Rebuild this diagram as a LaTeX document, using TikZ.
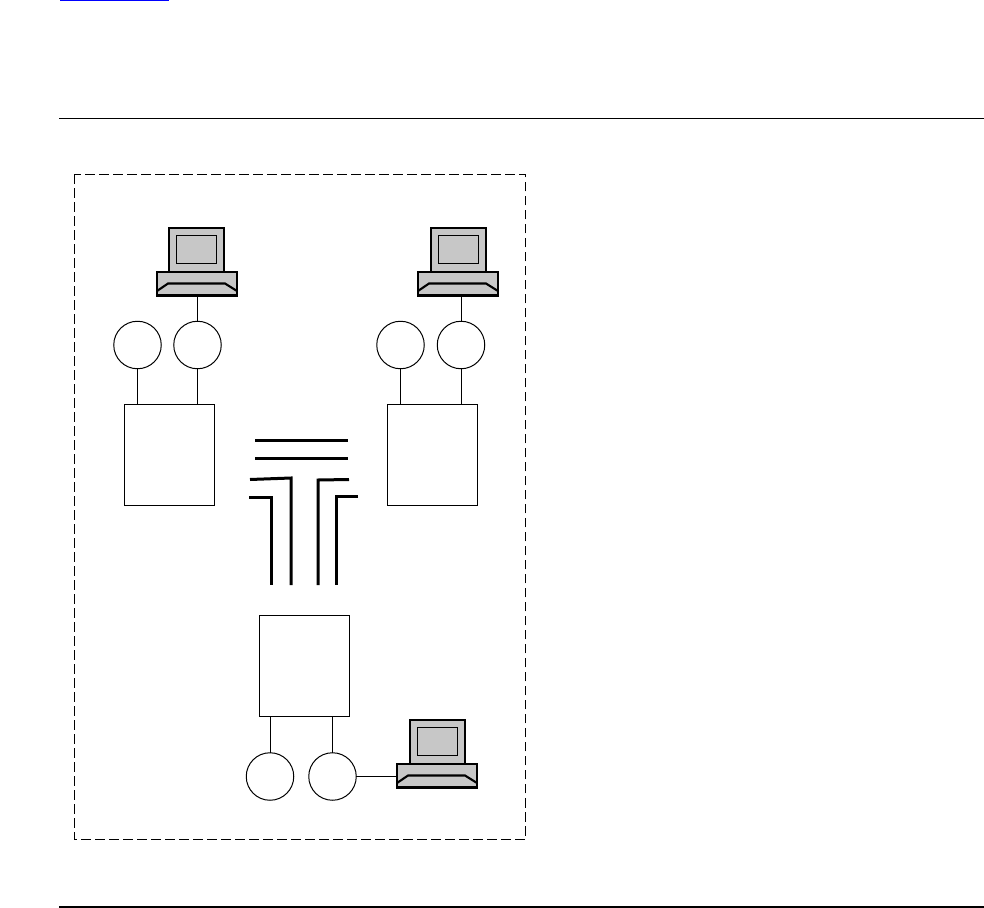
\documentclass[tikz,border=0pt]{standalone}
\tikzset{
  x=1bp,y=-1bp,
  thin line/.style={line width=0.9bp,black},
  disc/.style={circle,draw=black,line width=1bp,minimum size=47.5bp,inner sep=0pt,outer sep=0pt},
  cabinet/.style={rectangle,draw=black,line width=0.9bp,minimum width=90.5bp,minimum height=100.5bp,inner sep=0pt,outer sep=0pt},
  thick line/.style={line width=3bp,black},
  cgray/.style={fill=black!22,draw=black,line width=2.1bp},
  rule/.style={line width=1bp,black},
}
\newcommand{\computer}[4]{% x of monitor left, y of monitor top, name, x of base left relative to monitor
  \begin{scope}[shift={(#1,#2)}]
    \path[cgray] (0,0) rectangle (55,44);
    \path[draw=black,line width=1bp,fill=black!22] (7.5,7.5) rectangle (47.5,35);
    \node[cgray,rectangle,minimum width=80bp,minimum height=23.5bp,inner sep=0pt,outer sep=0pt,anchor=north west] (#3) at (#4,44) {};
    \draw[line width=2.1bp,black] (#4,63) -- ++(11,-7.5) -- ++(57,0) -- ++(12,7.5);
  \end{scope}}
\begin{document}
\begin{tikzpicture}
\useasboundingbox (0,0) rectangle (984,908);
\fill[white] (0,0) rectangle (984,908);
\coordinate (linkA) at (60,0.5); \coordinate (linkB) at (169,0.5);
\draw[blue,line width=1bp] (linkA) -- (linkB);
\coordinate (ruleAl) at (59,118.5); \coordinate (ruleAr) at (984,118.5);
\draw[rule] (ruleAl) -- (ruleAr);
\coordinate (ruleBl) at (59,907); \coordinate (ruleBr) at (984,907);
\draw[line width=1.6bp,black] (ruleBl) -- (ruleBr);
\draw[black,line width=0.9bp,dash pattern=on 9.5bp off 4.5bp] (74,174) rectangle (525.5,839);
\computer{169}{228}{pcA}{-12}
\computer{431}{228}{pcB}{-13}
\computer{410}{720}{pcC}{-13}
\node[disc] (c1) at (137.5,345) {};
\node[disc] (c2) at (197.5,345) {};
\node[disc] (c3) at (400.5,345) {};
\node[disc] (c4) at (461,345) {};
\node[disc] (c5) at (270,776.5) {};
\node[disc] (c6) at (332.5,776.5) {};
\node[cabinet] (b1) at (169.5,455) {};
\node[cabinet] (b2) at (432.25,455) {};
\node[cabinet] (b3) at (304.25,665.75) {};
\draw[thin line] (pcA.south -| c2) -- (c2);
\draw[thin line] (pcB.south -| c4) -- (c4);
\draw[thin line] (c6) -- (pcC.west |- c6);
\draw[thin line] (c1) -- (c1 |- b1.north);
\draw[thin line] (c2) -- (c2 |- b1.north);
\draw[thin line] (c3) -- (c3 |- b2.north);
\draw[thin line] (c4) -- (c4 |- b2.north);
\draw[thin line] (c5) -- (c5 |- b3.south);
\draw[thin line] (c6) -- (c6 |- b3.south);
\coordinate (a1) at (255,440.5); \coordinate (a2) at (348,440.5);
\coordinate (d1) at (255,458.5); \coordinate (d2) at (348,458.5);
\draw[thick line] (a1) -- (a2);
\draw[thick line] (d1) -- (d2);
\coordinate (e1) at (250,479.5); \coordinate (e2) at (291,478); \coordinate (e3) at (291,585);
\coordinate (f1) at (249,497); \coordinate (f2) at (271,497); \coordinate (f3) at (271,585);
\coordinate (g1) at (349,479.5); \coordinate (g2) at (318,480); \coordinate (g3) at (318,585);
\coordinate (h1) at (358,496); \coordinate (h2) at (336,496); \coordinate (h3) at (336,585);
\draw[thick line,line join=miter] (e1) -- (e2) -- (e3);
\draw[thick line,line join=miter] (f1) -- (f2) -- (f3);
\draw[thick line,line join=miter] (g1) -- (g2) -- (g3);
\draw[thick line,line join=miter] (h1) -- (h2) -- (h3);
\end{tikzpicture}
\end{document}
